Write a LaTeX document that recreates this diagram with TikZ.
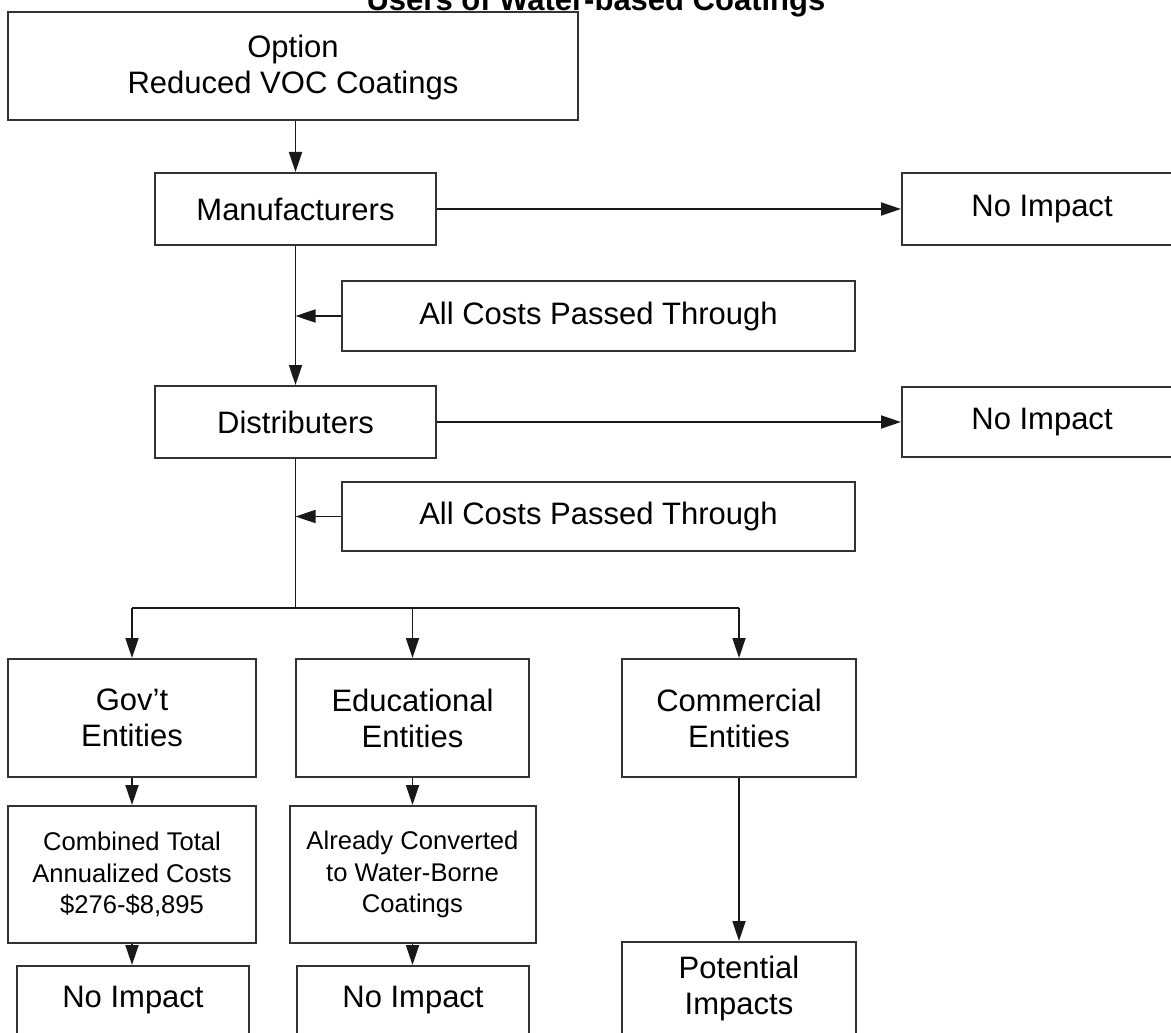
\documentclass[tikz,border=0pt]{standalone}
\usepackage{fontspec}
\setmainfont{Liberation Sans}
\usetikzlibrary{arrows.meta,positioning}
\tikzset{box/.style={draw=black!80,line width=1pt,fill=white,inner sep=0pt,align=center,
           font=\fontsize{15.5}{18}\selectfont},
         small box/.style={box,font=\fontsize{12.8}{15.75}\selectfont},
         link/.style={draw=black!90,line width=0.9pt},
         flow/.style={link,-{Triangle[length=10pt,width=6.5pt]}},
}

\begin{document}
\begin{tikzpicture}[x=0.5pt,y=-0.5pt]

\useasboundingbox (0,0) rectangle (1171,1032);

% title, top half is off the page
\node[anchor=base,font=\fontsize{15.5}{18}\selectfont\bfseries] (title) at (596,11) {Users of Water-based Coatings};

\node[box,minimum width=285pt,minimum height=54pt,text depth=2pt] (opt) at (293,66) {Option\\Reduced VOC Coatings};

\node[box,minimum width=140.5pt,minimum height=36pt] (manu) at (295.5,209) {Manufacturers};
\node[box,minimum width=140pt,minimum height=36pt] (noimpA) at (1042,209) {No Impact};
\node[box,minimum width=256.5pt,minimum height=35pt] (passA) at (598.5,316) {All Costs Passed Through};

\node[box,minimum width=140.5pt,minimum height=36pt] (dist) at (295.5,422) {Distributers};
\node[box,minimum width=140pt,minimum height=35pt] (noimpB) at (1042,422) {No Impact};
\node[box,minimum width=256.5pt,minimum height=34.5pt] (passB) at (598.5,516.5) {All Costs Passed Through};

\coordinate (split) at (295.5,608);

\node[box,minimum width=124pt,minimum height=59pt] (gov) at (132,718) {Gov't\\Entities};
\node[box,minimum width=116.5pt,minimum height=59pt] (edu) at (412.5,718) {Educational\\Entities};
\node[box,minimum width=117pt,minimum height=59pt] (com) at (739,718) {Commercial\\Entities};

\node[small box,minimum width=124pt,minimum height=68.5pt] (comb) at (132,874.5) {Combined Total\\Annualized Costs\\\$276-\$8,895};
\node[small box,minimum width=123pt,minimum height=68.5pt] (conv) at (412.5,874.5) {Already Converted\\to Water-Borne\\Coatings};

\node[box,minimum width=116pt,minimum height=34pt] (noimpC) at (133,1000) {No Impact};
\node[box,minimum width=116pt,minimum height=34pt] (noimpD) at (413,1000) {No Impact};
\node[box,minimum width=117pt,minimum height=46pt] (pot) at (739,988) {Potential\\Impacts};

% main stem
\draw[flow] (manu.north |- opt.south) -- (manu.north);
\draw[flow] (manu.east) -- (noimpA.west);
\draw[flow] (manu.south) -- (dist.north);
\draw[flow] (passA.west) -- (passA.west -| manu.south);
\draw[flow] (dist.east) -- (noimpB.west);
\draw[link] (dist.south) -- (split);
\draw[flow] (passB.west) -- (passB.west -| dist.south);

% branches
\draw[link] (split -| gov.north) -- (split -| com.north);
\foreach \n in {gov,edu,com}
  \draw[flow] (split -| \n.north) -- (\n.north);

\draw[flow] (gov.south) -- (gov.south |- comb.north);
\draw[flow] (comb.south) -- (comb.south |- noimpC.north);
\draw[flow] (edu.south) -- (edu.south |- conv.north);
\draw[flow] (conv.south) -- (conv.south |- noimpD.north);
\draw[flow] (com.south) -- (com.south |- pot.north);

\end{tikzpicture}
\end{document}
